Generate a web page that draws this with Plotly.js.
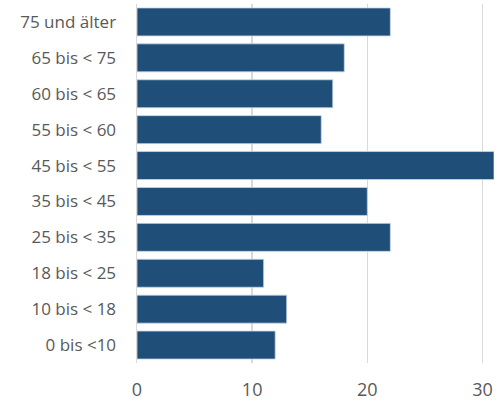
<!DOCTYPE html>
<html>
<head>
<meta charset="utf-8">
<script src="https://cdn.plot.ly/plotly-3.0.1.min.js"></script>
<style>html,body{margin:0;padding:0;background:#fff;}#chart{width:502px;height:403px;}</style>
</head>
<body>
<div id="chart"></div>
<script>
const categories = ["0 bis <10", "10 bis < 18", "18 bis < 25", "25 bis < 35", "35 bis < 45", "45 bis < 55", "55 bis < 60", "60 bis < 65", "65 bis < 75", "75 und älter"];
const values = [12, 13, 11, 22, 20, 31, 16, 17, 18, 22];
const xTicks = [0, 10, 20, 30];

const trace = {
  type: 'bar',
  orientation: 'h',
  x: values,
  y: categories,
  marker: {color: '#1f4e79', line: {color: 'rgba(200,215,230,0.8)', width: 1}},
  cliponaxis: true,
  hoverinfo: 'x+y'
};

const layout = {
  width: 502, height: 403,
  margin: {l: 137, r: 8, t: 4, b: 40},
  paper_bgcolor: '#ffffff', plot_bgcolor: '#ffffff',
  showlegend: false,
  bargap: 0.22,
  font: {family: 'Open Sans, sans-serif', size: 17, color: '#595959'},
  xaxis: {
    range: [0, 31],
    tickvals: xTicks,
    ticktext: xTicks.map(String),
    showgrid: true, gridcolor: '#d9d9d9', gridwidth: 1.5,
    zeroline: false, showline: false,
    ticks: 'outside', ticklen: 10, tickcolor: 'rgba(0,0,0,0)',
    tickfont: {size: 18, color: '#595959'}
  },
  yaxis: {
    type: 'category',
    categoryorder: 'array', categoryarray: categories,
    showgrid: false, zeroline: false,
    showline: true, linecolor: '#d9d9d9', linewidth: 1.5,
    ticks: 'outside', ticklen: 16, tickcolor: 'rgba(0,0,0,0)',
    tickfont: {size: 17, color: '#595959'}
  }
};

Plotly.newPlot('chart', [trace], layout, {displayModeBar: false, staticPlot: true});
</script>
</body>
</html>
